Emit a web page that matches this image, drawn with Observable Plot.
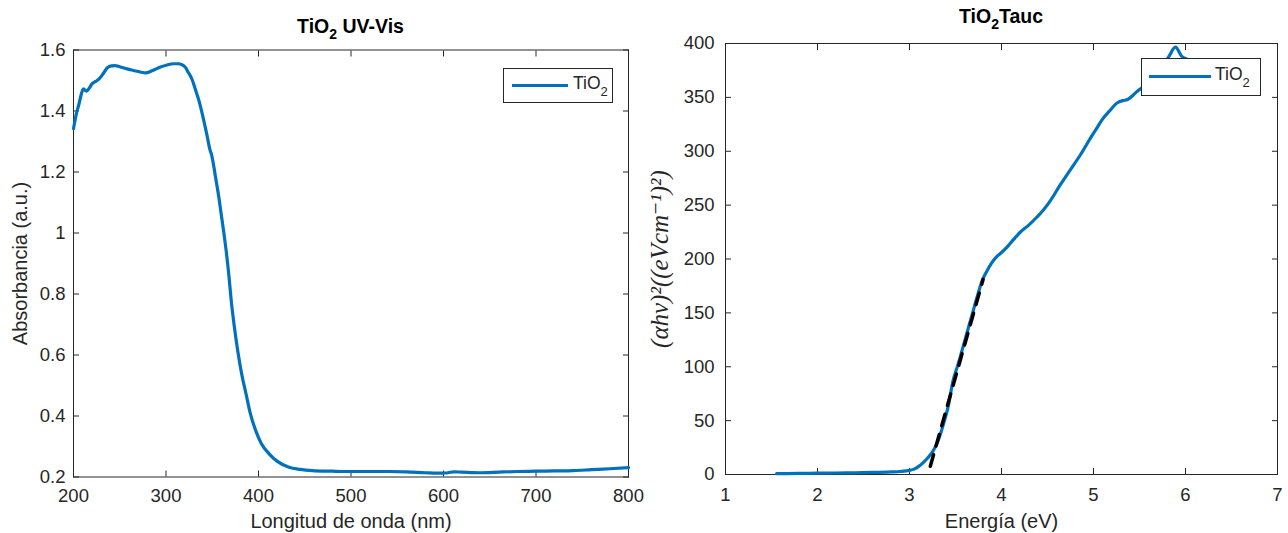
<!DOCTYPE html>
<html>
<head>
<meta charset="utf-8">
<script src="https://cdn.jsdelivr.net/npm/d3@7"></script>
<script src="https://cdn.jsdelivr.net/npm/@observablehq/plot@0.6"></script>
<style>
  html, body { margin: 0; padding: 0; background: white; }
  #wrap { position: relative; width: 1288px; height: 533px; overflow: hidden; font-family: "Liberation Sans", Arial, Helvetica, sans-serif; color: #262626; }
  .panel { position: absolute; top: 0; }
  .title { position: absolute; text-align: center; font-weight: bold; font-size: 19.5px; line-height: 20px; color: #000; white-space: nowrap; }
  .title sub { font-size: 14px; vertical-align: -6px; line-height: 0; }
  .legend { position: absolute; background: white; border: 1px solid #262626; box-sizing: border-box; font-size: 17.5px; color: #262626; }
  .legend .sw { position: absolute; height: 3.2px; background: #0072BD; }
  .legend .lt { position: absolute; line-height: 17px; white-space: nowrap; }
  .legend sub { font-size: 13px; vertical-align: -7px; line-height: 0; }
  svg { overflow: visible; }
</style>
</head>
<body>
<div id="wrap">
  <div id="p1" class="panel" style="left:0px"></div>
  <div id="p2" class="panel" style="left:640px"></div>
  <div class="title" style="left:73px; width:555px; top:16px;">TiO<sub>2</sub> UV-Vis</div>
  <div class="title" style="left:725px; width:552px; top:6px;">TiO<sub>2</sub>Tauc</div>
  <div class="legend" style="left:503px; top:68px; width:110px; height:35px;">
    <div class="sw" style="left:8px; top:15px; width:56px;"></div>
    <div class="lt" style="left:69px; top:6px;">TiO<sub>2</sub></div>
  </div>
  <div class="legend" style="left:1141px; top:58px; width:120px; height:38px;">
    <div class="sw" style="left:7px; top:16px; width:62px;"></div>
    <div class="lt" style="left:73px; top:7px;">TiO<sub>2</sub></div>
  </div>
</div>
<script>
// ---- UV-Vis absorbance data (wavelength nm, absorbance a.u.) ----
const uvNm  = [200, 203, 206, 208, 210.7, 214, 217, 220, 224, 228, 232, 236.6, 241, 245, 250, 258, 265, 272, 278, 285, 294, 301, 308, 313, 317, 321, 324, 328, 331, 336, 340, 344, 348, 349, 351, 354, 357, 360, 363, 365, 368, 370.5, 374, 377.5, 382, 386.5, 391, 397, 403, 411.5, 420, 433, 445, 458, 480, 497, 520, 540, 560, 580, 594, 600, 605, 611, 620, 640, 660, 680, 700, 720, 740, 760, 780, 800];
const uvAbs = [1.342, 1.39, 1.424, 1.45, 1.473, 1.465, 1.475, 1.489, 1.497, 1.506, 1.522, 1.542, 1.548, 1.549, 1.545, 1.538, 1.533, 1.528, 1.525, 1.532, 1.544, 1.551, 1.555, 1.555, 1.552, 1.543, 1.527, 1.505, 1.478, 1.43, 1.38, 1.325, 1.268, 1.26, 1.23, 1.175, 1.12, 1.055, 0.99, 0.943, 0.86, 0.779, 0.69, 0.615, 0.535, 0.473, 0.41, 0.352, 0.31, 0.276, 0.252, 0.232, 0.225, 0.221, 0.219, 0.218, 0.218, 0.218, 0.217, 0.214, 0.2125, 0.213, 0.214, 0.217, 0.216, 0.214, 0.216, 0.218, 0.219, 0.22, 0.221, 0.224, 0.227, 0.231];
const uvXTicks = [200, 300, 400, 500, 600, 700, 800];
const uvYTicks = [0.2, 0.4, 0.6, 0.8, 1.0, 1.2, 1.4, 1.6];

// ---- Tauc data (energy eV, (alpha h v)^2) ----
const tEnergy = [1.556, 1.8, 2.0, 2.2, 2.4, 2.6, 2.8, 2.9, 3.0, 3.05, 3.1, 3.146, 3.2, 3.255, 3.3, 3.345, 3.38, 3.418, 3.473, 3.527, 3.6, 3.673, 3.746, 3.79, 3.836, 3.89, 3.946, 4.0, 4.06, 4.13, 4.2, 4.29, 4.38, 4.46, 4.53, 4.64, 4.75, 4.86, 4.97, 5.04, 5.1, 5.17, 5.26, 5.32, 5.37, 5.43, 5.48, 5.53, 5.6, 5.68, 5.75, 5.82, 5.89, 5.96, 6.03, 6.1, 6.2];
const tValue  = [0.8, 1.0, 1.2, 1.4, 1.6, 1.9, 2.4, 2.8, 3.8, 5, 7.5, 10.8, 15.5, 21.7, 29, 40, 50, 62, 87, 102, 124, 146, 168, 180, 188, 196, 202, 206, 211, 218, 224.6, 231, 238.5, 246, 254, 269, 283, 297, 312.6, 322, 330, 337, 345, 347, 348, 352, 356, 359, 363, 370, 378, 388, 396.6, 388, 385, 380, 366];
// linear fit (dashed) endpoints
const fitX = [3.226, 3.80];
const fitY = [7.7, 181];
const tXTicks = [1, 2, 3, 4, 5, 6, 7];
const tYTicks = [0, 50, 100, 150, 200, 250, 300, 350, 400];

const uvData = uvNm.map((x, i) => ({x, y: uvAbs[i]}));
const tData = tEnergy.map((x, i) => ({x, y: tValue[i]}));
const fitData = fitX.map((x, i) => ({x, y: fitY[i]}));

const INK = "#262626";
const BLUE = "#0072BD";
const baseStyle = {
  fontFamily: '"Liberation Sans", Arial, Helvetica, sans-serif',
  fontSize: "18.5px",
  color: INK,
  background: "transparent",
  overflow: "visible"
};
const fmtNum = d => String(+(+d).toFixed(2));

const p1 = Plot.plot({
  width: 640, height: 533,
  marginLeft: 73, marginRight: 12, marginTop: 49.5, marginBottom: 56.5,
  style: baseStyle,
  x: {domain: [200, 800]},
  y: {domain: [0.2, 1.6]},
  marks: [
    Plot.frame({stroke: INK, strokeWidth: 1}),
    Plot.axisX(uvXTicks, {anchor: "bottom", tickSize: -6, tickPadding: 18, tickFormat: fmtNum, label: null}),
    Plot.axisX(uvXTicks, {anchor: "top", tickSize: -6, fill: "none", label: null}),
    Plot.axisY(uvYTicks, {anchor: "left", tickSize: -6, tickPadding: 14, tickFormat: fmtNum, label: null}),
    Plot.axisY(uvYTicks, {anchor: "right", tickSize: -6, fill: "none", label: null}),
    Plot.axisX([], {anchor: "bottom", tickSize: 0, label: "Longitud de onda (nm)", labelAnchor: "center", labelArrow: "none", labelOffset: 51, fontSize: 20}),
    Plot.axisY([], {anchor: "left", tickSize: 0, label: "Absorbancia (a.u.)", labelAnchor: "center", labelArrow: "none", labelOffset: 61, fontSize: 20}),
    Plot.line(uvData, {x: "x", y: "y", stroke: BLUE, strokeWidth: 3.2, curve: "monotone-x", strokeLinejoin: "round", strokeLinecap: "round"})
  ]
});
document.getElementById("p1").appendChild(p1);

const p2 = Plot.plot({
  width: 648, height: 533,
  marginLeft: 85, marginRight: 11, marginTop: 43, marginBottom: 59,
  style: baseStyle,
  x: {domain: [1, 7]},
  y: {domain: [0, 400]},
  marks: [
    Plot.frame({stroke: INK, strokeWidth: 1}),
    Plot.axisX(tXTicks, {anchor: "bottom", tickSize: -6, tickPadding: 19, tickFormat: fmtNum, label: null}),
    Plot.axisX(tXTicks, {anchor: "top", tickSize: -6, fill: "none", label: null}),
    Plot.axisY(tYTicks, {anchor: "left", tickSize: -6, tickPadding: 17, tickFormat: fmtNum, label: null}),
    Plot.axisY(tYTicks, {anchor: "right", tickSize: -6, fill: "none", label: null}),
    Plot.axisX([], {anchor: "bottom", tickSize: 0, label: "Energía (eV)", labelAnchor: "center", labelArrow: "none", labelOffset: 53, fontSize: 20}),
    Plot.axisY([], {anchor: "left", tickSize: 0, label: "(αhv)²((eVcm⁻¹)²)", labelAnchor: "center", labelArrow: "none", labelOffset: 75, fontSize: 25, fontFamily: '"Liberation Serif", "DejaVu Serif", serif', fontStyle: "italic"}),
    Plot.line(tData, {x: "x", y: "y", stroke: BLUE, strokeWidth: 3.2, curve: "monotone-x", strokeLinejoin: "round", strokeLinecap: "round"}),
    Plot.line(fitData, {x: "x", y: "y", stroke: "black", strokeWidth: 3.5, strokeDasharray: "12,9"})
  ]
});
document.getElementById("p2").appendChild(p2);
</script>
</body>
</html>
